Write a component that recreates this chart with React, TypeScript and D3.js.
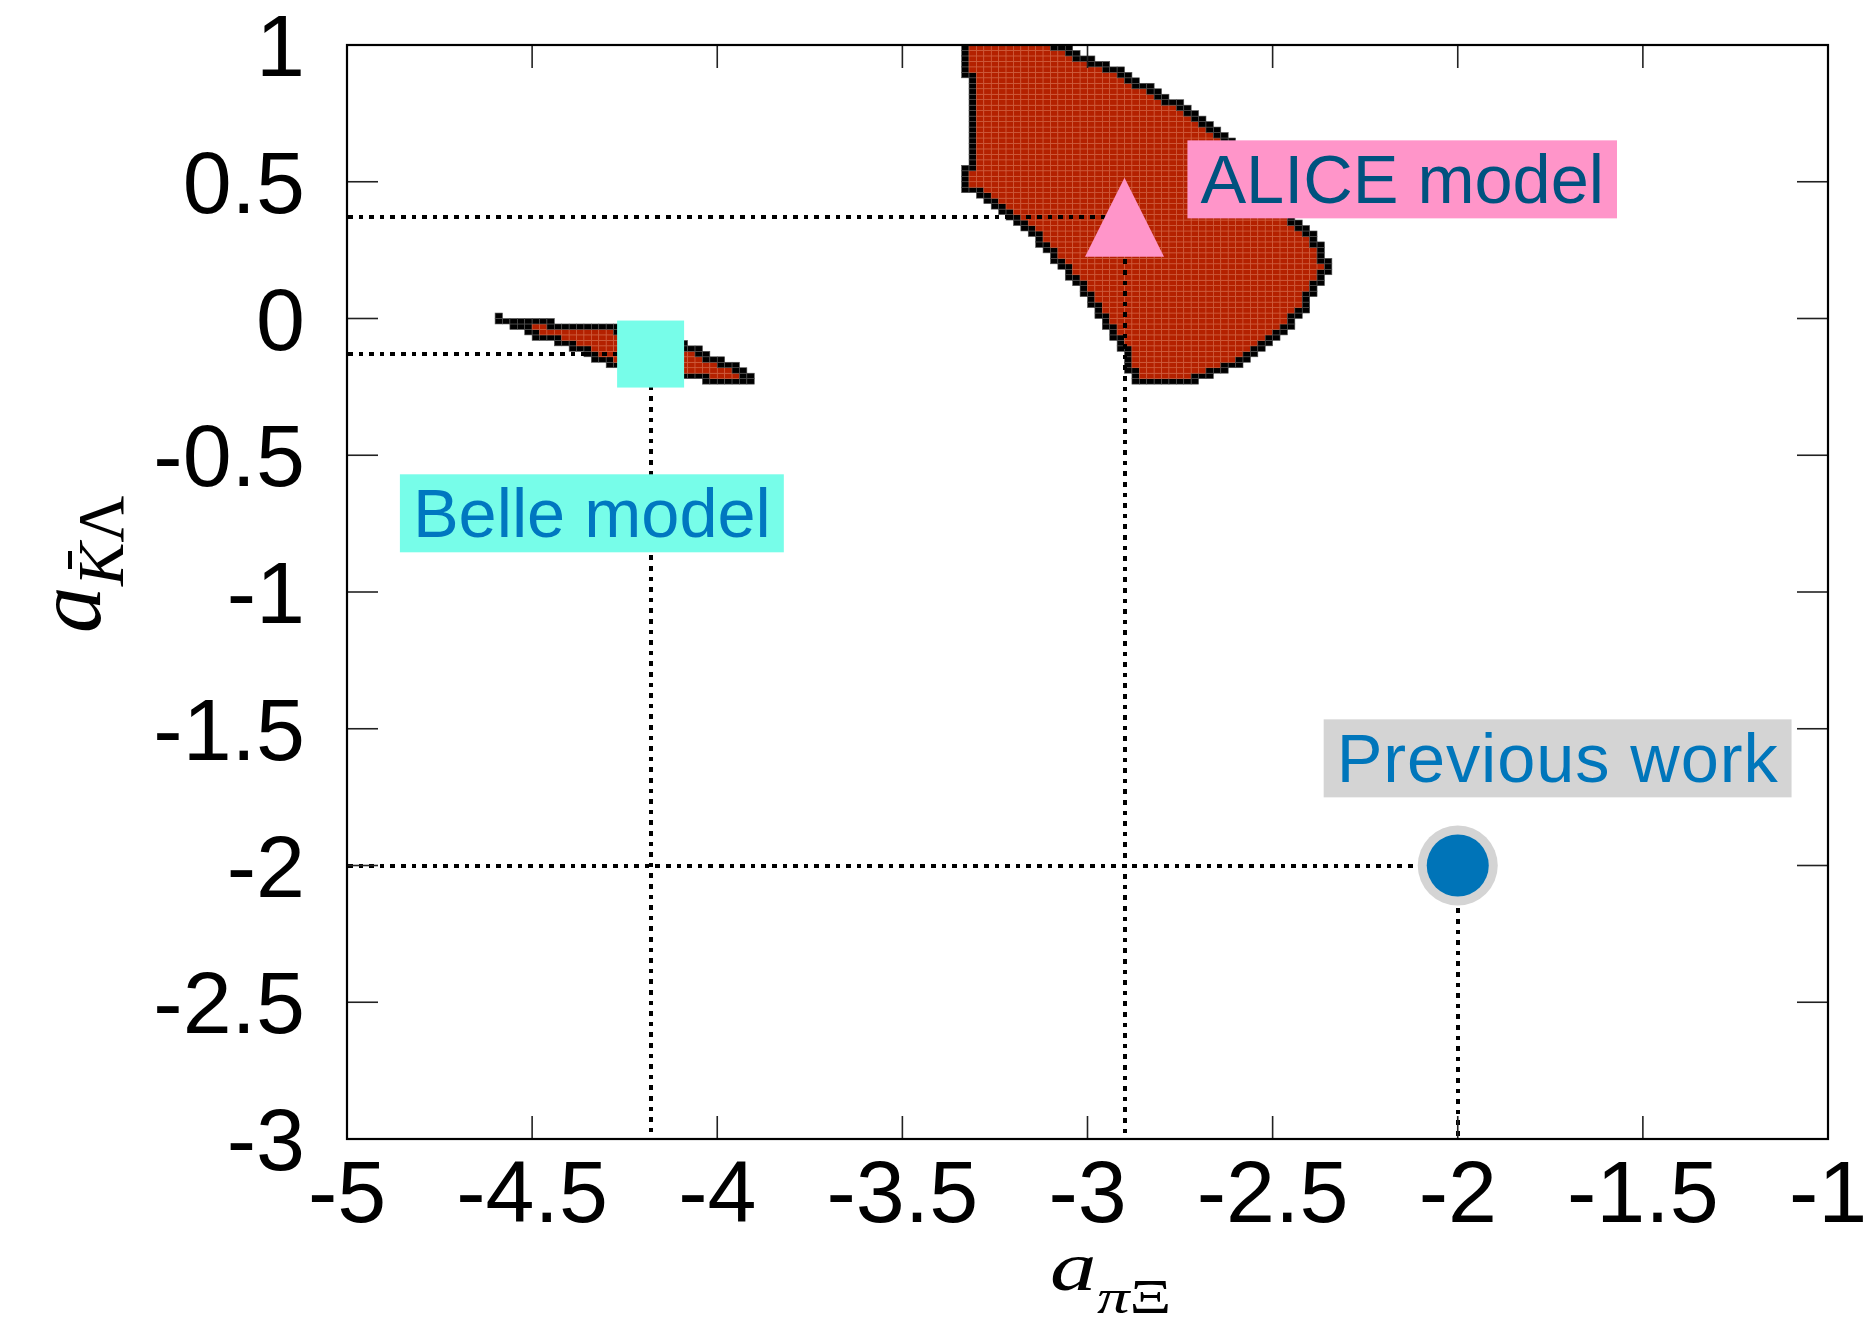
import React, { useEffect, useRef } from "react";
import * as d3 from "d3";

const W = 1874;
const H = 1320;
const M = { left: 347, right: 46, top: 45, bottom: 181 };

// Axis ranges and tick labels
const xDomain: [number, number] = [-5, -1];
const yDomain: [number, number] = [-3, 1];
const xTickValues = [-5, -4.5, -4, -3.5, -3, -2.5, -2, -1.5, -1];
const xTickLabels = ["-5", "-4.5", "-4", "-3.5", "-3", "-2.5", "-2", "-1.5", "-1"];
const yTickValues = [-3, -2.5, -2, -1.5, -1, -0.5, 0, 0.5, 1];
const yTickLabels = ["-3", "-2.5", "-2", "-1.5", "-1", "-0.5", "0", "0.5", "1"];

// Scan grid spacing of the allowed-region scan (same in both directions)
const gridStep = 0.02;

// Outline of the upper allowed region, (a_piXi, a_KbarLambda) pairs
const upperRegion: [number, number][] = [
  [-3.345, 1.05], [-3.345, 0.875], [-3.325, 0.872], [-3.325, 0.565], [-3.345, 0.56],
  [-3.345, 0.47], [-3.32, 0.46], [-3.235, 0.39], [-3.18, 0.34], [-3.13, 0.27],
  [-3.075, 0.18], [-3.03, 0.12], [-2.995, 0.06], [-2.96, -0.02], [-2.93, -0.08],
  [-2.91, -0.12], [-2.895, -0.18], [-2.88, -0.235], [-2.7, -0.235], [-2.65, -0.205],
  [-2.6, -0.185], [-2.565, -0.16], [-2.53, -0.125], [-2.495, -0.09], [-2.46, -0.05],
  [-2.43, -0.01], [-2.4, 0.05], [-2.375, 0.11], [-2.355, 0.15], [-2.34, 0.19],
  [-2.355, 0.25], [-2.375, 0.3], [-2.41, 0.34], [-2.43, 0.37], [-2.52, 0.52],
  [-2.62, 0.665], [-2.675, 0.725], [-2.73, 0.775], [-2.795, 0.825], [-2.86, 0.875],
  [-2.93, 0.925], [-3.0, 0.965], [-3.04, 0.985], [-3.1, 1.03], [-3.12, 1.05],
];

// Outline of the lower (thin) allowed region
const lowerRegion: [number, number][] = [
  [-4.6, 0.02], [-4.56, 0.0], [-4.38, -0.015], [-4.27, -0.027], [-4.09, -0.082],
  [-4.035, -0.12], [-3.98, -0.145], [-3.92, -0.188], [-3.895, -0.22], [-3.895, -0.245],
  [-3.98, -0.245], [-4.09, -0.22], [-4.28, -0.178], [-4.335, -0.16], [-4.38, -0.117],
  [-4.435, -0.092], [-4.475, -0.08], [-4.515, -0.055], [-4.56, -0.032], [-4.6, -0.02],
];

// Model points
const modelNames = ["ALICE model", "Belle model", "Previous work"];
const modelAPiXi = [-2.9, -4.18, -2.0];
const modelAKLambda = [0.37, -0.13, -2.0];
const modelLabelX = [-2.695, -4.822, -2.327];
const modelLabelY = [0.421, -0.8, -1.696];

const regionFill = "#b42100";
const regionGrid = "#d0603f";
const boxColors = ["#ff95c9", "#77fde9", "#d4d4d4"];
const textColors = ["#00527f", "#0077c0", "#0076bb"];
const labelSpacing = [0, 0, 0.9];

type Cell = { x: number; y: number; edge: boolean };

function rasterize(poly: [number, number][]): Cell[] {
  const xs = poly.map((p) => p[0]);
  const ys = poly.map((p) => p[1]);
  const i0 = Math.floor((d3.min(xs)! - xDomain[0]) / gridStep) - 2;
  const i1 = Math.ceil((d3.max(xs)! - xDomain[0]) / gridStep) + 2;
  const j0 = Math.floor((d3.min(ys)! - yDomain[0]) / gridStep) - 2;
  const j1 = Math.ceil((d3.max(ys)! - yDomain[0]) / gridStep) + 2;
  const inside = new Set<string>();
  for (let i = i0; i <= i1; i++) {
    for (let j = j0; j <= j1; j++) {
      const cx = xDomain[0] + (i + 0.5) * gridStep;
      const cy = yDomain[0] + (j + 0.5) * gridStep;
      if (d3.polygonContains(poly, [cx, cy])) inside.add(i + "," + j);
    }
  }
  const cells: Cell[] = [];
  inside.forEach((key) => {
    const [i, j] = key.split(",").map(Number);
    let edge = false;
    for (let di = -1; di <= 1; di++)
      for (let dj = -1; dj <= 1; dj++)
        if (!inside.has(i + di + "," + (j + dj))) edge = true;
    const cx = xDomain[0] + (i + 0.5) * gridStep;
    const cy = yDomain[0] + (j + 0.5) * gridStep;
    if (cy < yDomain[1] && cy > yDomain[0] && cx > xDomain[0] && cx < xDomain[1])
      cells.push({ x: cx, y: cy, edge });
  });
  return cells;
}

export default function App() {
  const ref = useRef<SVGSVGElement | null>(null);

  useEffect(() => {
    const svg = d3.select(ref.current!);
    svg.selectAll("*").remove();

    const x = d3.scaleLinear().domain(xDomain).range([M.left, W - M.right]);
    const y = d3.scaleLinear().domain(yDomain).range([H - M.bottom, M.top]);
    const x0 = x(xDomain[0]), x1 = x(xDomain[1]);
    const y0 = y(yDomain[0]), y1 = y(yDomain[1]);

    svg.append("rect").attr("width", W).attr("height", H).attr("fill", "#fff");

    // allowed regions as scan cells
    const cw = x(gridStep) - x(0);
    const ch = y(0) - y(gridStep);
    const regionG = svg.append("g");
    [upperRegion, lowerRegion].forEach((poly) => {
      const cells = rasterize(poly);
      regionG
        .selectAll(null)
        .data(cells)
        .enter()
        .append("rect")
        .attr("x", (d) => x(d.x - gridStep / 2))
        .attr("y", (d) => y(d.y + gridStep / 2))
        .attr("width", cw)
        .attr("height", ch)
        .attr("fill", (d) => (d.edge ? "#000" : regionFill))
        .attr("stroke", (d) => (d.edge ? "#555" : regionGrid))
        .attr("stroke-width", 0.6);
    });

    // dotted guide lines to the axes
    const guides = svg.append("g")
      .attr("stroke", "#000")
      .attr("stroke-width", 4.6)
      .attr("stroke-dasharray", "4.6 6")
      .attr("shape-rendering", "crispEdges");
    modelAPiXi.forEach((ax, k) => {
      const px = Math.round(x(ax)), py = Math.round(y(modelAKLambda[k]));
      guides.append("line").attr("x1", x0 + 1).attr("x2", px).attr("y1", py).attr("y2", py);
      guides.append("line").attr("x1", px).attr("x2", px).attr("y1", py).attr("y2", y0);
    });

    // markers
    {
      const px = x(modelAPiXi[0]), py = y(modelAKLambda[0]);
      const s = 39.5;
      svg.append("path")
        .attr("d", `M${px},${py - s}L${px + s},${py + s}L${px - s},${py + s}Z`)
        .attr("fill", boxColors[0]);
    }
    {
      const px = x(modelAPiXi[1]), py = y(modelAKLambda[1]);
      const s = 33.5;
      svg.append("rect").attr("x", px - s).attr("y", py - s).attr("width", 2 * s).attr("height", 2 * s)
        .attr("fill", boxColors[1]);
    }
    {
      const px = x(modelAPiXi[2]), py = y(modelAKLambda[2]);
      svg.append("circle").attr("cx", px).attr("cy", py).attr("r", 40).attr("fill", boxColors[2]);
      svg.append("circle").attr("cx", px).attr("cy", py).attr("r", 31).attr("fill", "#0074b8");
    }

    // model labels on coloured boxes
    modelNames.forEach((name, k) => {
      const g = svg.append("g");
      const bx = g.append("rect").attr("fill", boxColors[k]);
      const t = g.append("text")
        .attr("x", x(modelLabelX[k]))
        .attr("y", y(modelLabelY[k]))
        .attr("font-family", "'Liberation Sans', Arial, sans-serif")
        .attr("font-size", 68.5)
        .attr("letter-spacing", labelSpacing[k])
        .attr("fill", textColors[k])
        .text(name);
      const len = (t.node() as SVGTextElement).getComputedTextLength();
      bx.attr("x", x(modelLabelX[k]) - 13)
        .attr("y", y(modelLabelY[k]) - 63)
        .attr("width", len + 26)
        .attr("height", 78);
    });

    // frame and ticks
    const ticks = svg.append("g").attr("stroke", "#222").attr("stroke-width", 1.6);
    xTickValues.forEach((v) => {
      ticks.append("line").attr("x1", x(v)).attr("x2", x(v)).attr("y1", y0).attr("y2", y0 - 23);
      ticks.append("line").attr("x1", x(v)).attr("x2", x(v)).attr("y1", y1).attr("y2", y1 + 23);
    });
    yTickValues.forEach((v) => {
      ticks.append("line").attr("x1", x0).attr("x2", x0 + 31).attr("y1", y(v)).attr("y2", y(v));
      ticks.append("line").attr("x1", x1).attr("x2", x1 - 31).attr("y1", y(v)).attr("y2", y(v));
    });
    svg.append("rect")
      .attr("x", x0).attr("y", y1).attr("width", x1 - x0).attr("height", y0 - y1)
      .attr("fill", "none").attr("stroke", "#000").attr("stroke-width", 2.2);

    const tickFont = "'Liberation Sans', Arial, Helvetica, sans-serif";
    xTickValues.forEach((v, k) => {
      svg.append("text").attr("x", x(v)).attr("y", y0 + 83)
        .attr("text-anchor", "middle").attr("font-family", tickFont).attr("font-size", 88)
        .attr("fill", "#000").text(xTickLabels[k]);
    });
    yTickValues.forEach((v, k) => {
      svg.append("text").attr("x", x0 - 42).attr("y", y(v) + 31)
        .attr("text-anchor", "end").attr("font-family", tickFont).attr("font-size", 88)
        .attr("fill", "#000").text(yTickLabels[k]);
    });

    // axis titles
    const serif = "'Liberation Serif', 'Times New Roman', serif";
    const xl = svg.append("g").attr("transform", "translate(1050,1290) scale(1,0.74)");
    xl.append("text").attr("font-family", serif).attr("font-style", "italic").attr("font-size", 93).text("a");
    const xs = xl.append("text").attr("x", 47).attr("y", 31).attr("font-family", serif).attr("font-size", 65);
    xs.append("tspan").attr("font-style", "italic").text("π");
    xs.append("tspan").text("Ξ");

    const yl = svg.append("g").attr("transform", "translate(100,633) rotate(-90)");
    yl.append("text").attr("font-family", serif).attr("font-style", "italic").attr("font-size", 93).text("a");
    const ys = yl.append("text").attr("x", 47).attr("y", 23).attr("font-family", serif).attr("font-size", 65);
    ys.append("tspan").attr("font-style", "italic").text("K");
    ys.append("tspan").text("Λ");
    yl.append("line").attr("x1", 64).attr("x2", 82).attr("y1", -30).attr("y2", -30)
      .attr("stroke", "#000").attr("stroke-width", 4);
  }, []);

  return (
    <svg
      ref={ref}
      width={W}
      height={H}
      style={{ position: "absolute", left: 0, top: 0, display: "block" }}
    />
  );
}
